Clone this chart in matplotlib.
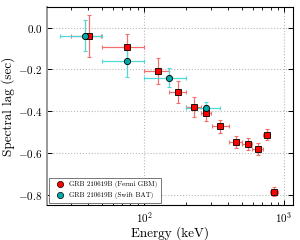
import matplotlib
matplotlib.use('Agg')
import matplotlib.pyplot as plt
from matplotlib.lines import Line2D
import numpy as np

plt.rcParams['font.family'] = 'cmr10'
plt.rcParams['mathtext.fontset'] = 'cm'
plt.rcParams['axes.formatter.use_mathtext'] = True

# Fermi GBM
gbm_e = [40.6, 75.6, 125.9, 175.8, 226, 276, 351, 452, 550, 648, 751, 853]
gbm_elo = [30.1, 50.0, 100, 150.6, 199, 254, 305, 405, 504, 588, 704, 794]
gbm_ehi = [49.4, 100.5, 150.6, 199, 254, 300, 405, 504, 588, 704, 794, 910]
gbm_lag = [-0.038, -0.094, -0.206, -0.308, -0.379, -0.408, -0.473, -0.547, -0.556, -0.580, -0.512, -0.787]
gbm_err = [0.10, 0.062, 0.062, 0.052, 0.047, 0.04, 0.03, 0.03, 0.028, 0.028, 0.025, 0.022]

# Swift BAT
bat_e = [37.7, 75.6, 151.6, 276]
bat_elo = [25.2, 50.1, 100, 200]
bat_ehi = [50.1, 100, 199.6, 350]
bat_lag = [-0.037, -0.160, -0.240, -0.387]
bat_err = [0.074, 0.074, 0.046, 0.03]

fig = plt.figure(figsize=(3.0, 2.4), dpi=100)
ax = fig.add_axes([0.157, 0.146, 0.82, 0.825])

gbm_e = np.array(gbm_e)
bat_e = np.array(bat_e)
gbm_xerr = [gbm_e - np.array(gbm_elo), np.array(gbm_ehi) - gbm_e]
bat_xerr = [bat_e - np.array(bat_elo), np.array(bat_ehi) - bat_e]

# error bars underneath, markers on top
ax.errorbar(gbm_e, gbm_lag, xerr=gbm_xerr, yerr=gbm_err, fmt='none',
            ecolor='#f07070', elinewidth=0.9, capsize=1.5, capthick=0.8, zorder=2)
ax.errorbar(bat_e, bat_lag, xerr=bat_xerr, yerr=bat_err, fmt='none',
            ecolor='#50d8d8', elinewidth=0.9, capsize=1.5, capthick=0.8, zorder=2)
ax.plot(gbm_e, gbm_lag, 's', color='red', ms=5, mec='black', mew=0.6, zorder=3)
ax.plot(bat_e, bat_lag, 'o', color='#00a8a8', ms=4.5, mec='black', mew=0.6, zorder=4)

ax.set_xscale('log')
ax.set_xlim(20.3, 1160)
ax.set_ylim(-0.85, 0.1)
ax.set_yticks([0.0, -0.2, -0.4, -0.6, -0.8])
ax.set_xticks([100, 1000])
ax.grid(True, which='major', color='#b8b8b8', linestyle=':', linewidth=0.8)
ax.tick_params(which='both', direction='in', top=True, right=True, labelsize=8)
ax.tick_params(which='major', length=3.5, width=0.7)
ax.tick_params(which='minor', length=2, width=0.6)
ax.spines['left'].set_color('#999999')
ax.spines['left'].set_linewidth(1.4)
for s in ['top', 'right', 'bottom']:
    ax.spines[s].set_linewidth(0.8)

ax.set_xlabel('Energy (keV)', fontsize=9.5, labelpad=1)
ax.set_ylabel('Spectral lag (sec)', fontsize=9.5, labelpad=2)

handles = [
    Line2D([], [], marker='o', ls='none', color='red', mec='black', mew=0.5, ms=4.5),
    Line2D([], [], marker='o', ls='none', color='#00a8a8', mec='black', mew=0.5, ms=4.5),
]
leg = ax.legend(handles, ['GRB 210619B (Fermi GBM)', 'GRB 210619B (Swift BAT)'],
                loc='lower left', fontsize=5, fancybox=False, edgecolor='#777777',
                framealpha=1, borderpad=0.5, handletextpad=0.4, labelspacing=0.6,
                borderaxespad=0.3)
leg.get_frame().set_linewidth(0.7)

fig.savefig('out.png', dpi=100)
